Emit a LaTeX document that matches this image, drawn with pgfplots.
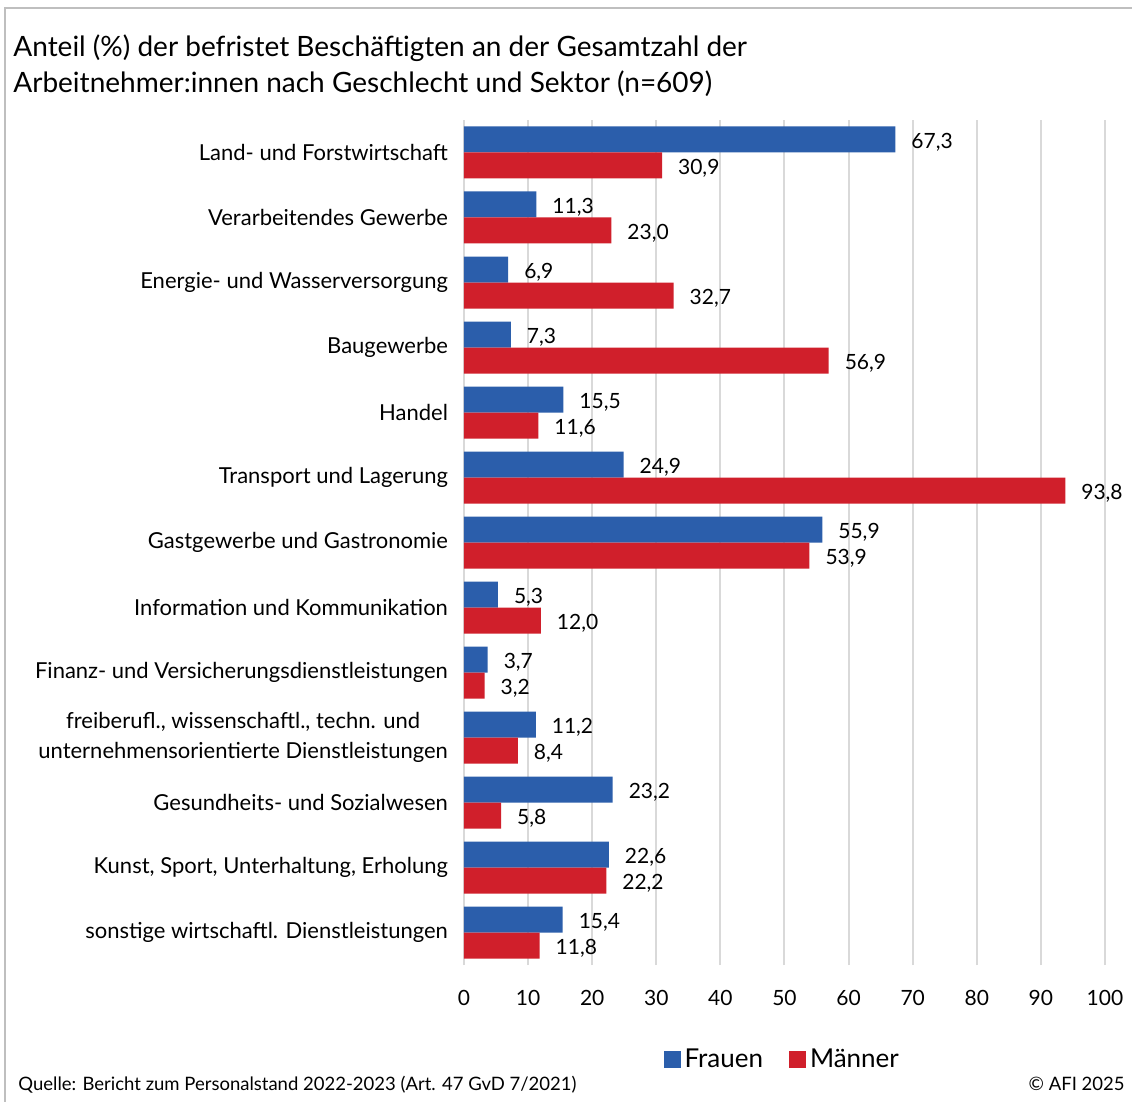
\documentclass[border=0pt]{standalone}
\usepackage{fontspec}
\setmainfont{Lato}
\usepackage{pgfplots}
\pgfplotsset{compat=1.18}
\definecolor{fblue}{HTML}{2B5EAB}
\definecolor{mred}{HTML}{D01F2B}
\definecolor{gridgray}{HTML}{D9D9D9}
\definecolor{framegray}{HTML}{BFBFBF}
\begin{document}
\begin{tikzpicture}
\path[use as bounding box] (0,0) rectangle (566pt,-551pt);
\draw[framegray, line width=0.8pt] (2.5pt,-551pt) -- (2.5pt,-4pt) -- (566pt,-4pt);
\node[anchor=base west, inner sep=0, font=\fontsize{14}{16}\selectfont] at (6.5pt,-28.5pt) {Anteil (\%) der befristet Beschäftigten an der Gesamtzahl der};
\node[anchor=base west, inner sep=0, font=\fontsize{14}{16}\selectfont] at (6.5pt,-46.5pt) {Arbeitnehmer:innen nach Geschlecht und Sektor (n=609)};
\begin{axis}[
  at={(232pt,-482.5pt)}, anchor=south west,
  width=320.5pt, height=422.5pt, scale only axis,
  xmin=0, xmax=100, ymin=-0.5, ymax=12.5,
  xbar, bar width=13pt,
  axis line style={draw=none},
  major tick length=0pt,
  xtick={0,10,...,100},
  xmajorgrids, grid style={gridgray, line width=1pt},
  ytick={0,...,12},
  yticklabels={sonstige wirtschaftl. Dienstleistungen,
    {Kunst, Sport, Unterhaltung, Erholung},
    Gesundheits- und Sozialwesen,
    {freiberufl., wissenschaftl., techn. und\\unternehmensorientierte Dienstleistungen},
    Finanz- und Versicherungsdienstleistungen,
    Information und Kommunikation,
    Gastgewerbe und Gastronomie,
    Transport und Lagerung,
    Handel,
    Baugewerbe,
    Energie- und Wasserversorgung,
    Verarbeitendes Gewerbe,
    Land- und Forstwirtschaft},
  yticklabel style={font=\fontsize{11}{15}\selectfont, align=center, xshift=-4.5pt},
  xticklabel style={font=\fontsize{10.5}{12}\selectfont, yshift=-9pt},
  /pgf/number format/assume math mode=true,
  clip=false,
  nodes near coords,
  nodes near coords style={font=\fontsize{10.5}{12}\selectfont, anchor=west, xshift=4.5pt, yshift=-1.5pt,
    /pgf/number format/.cd, fixed, fixed zerofill, precision=1, use comma, assume math mode=true},
  legend style={at={(0.498,-0.112)}, anchor=center, draw=none, fill=none,
    legend columns=2, font=\fontsize{13}{14}\selectfont,
    /tikz/every even column/.append style={column sep=11pt}},
  legend image code/.code={\fill[#1] (0pt,-4.25pt) rectangle (8.5pt,4.25pt);},
]
\addplot[fill=fblue, draw=none, bar shift=6.5pt] coordinates {
 (15.4,0) (22.6,1) (23.2,2) (11.2,3) (3.7,4) (5.3,5) (55.9,6) (24.9,7) (15.5,8) (7.3,9) (6.9,10) (11.3,11) (67.3,12)};
\addplot[fill=mred, draw=none, bar shift=-6.5pt] coordinates {
 (11.8,0) (22.2,1) (5.8,2) (8.4,3) (3.2,4) (12.0,5) (53.9,6) (93.8,7) (11.6,8) (56.9,9) (32.7,10) (23.0,11) (30.9,12)};
\legend{Frauen, Männer}
\end{axis}
\node[anchor=base west, inner sep=0, font=\fontsize{9.25}{11}\selectfont] at (9pt,-545pt) {Quelle: Bericht zum Personalstand 2022-2023 (Art. 47 GvD 7/2021)};
\node[anchor=base east, inner sep=0, font=\fontsize{9.25}{11}\selectfont] at (562.5pt,-545pt) {© AFI 2025};
\end{tikzpicture}
\end{document}
